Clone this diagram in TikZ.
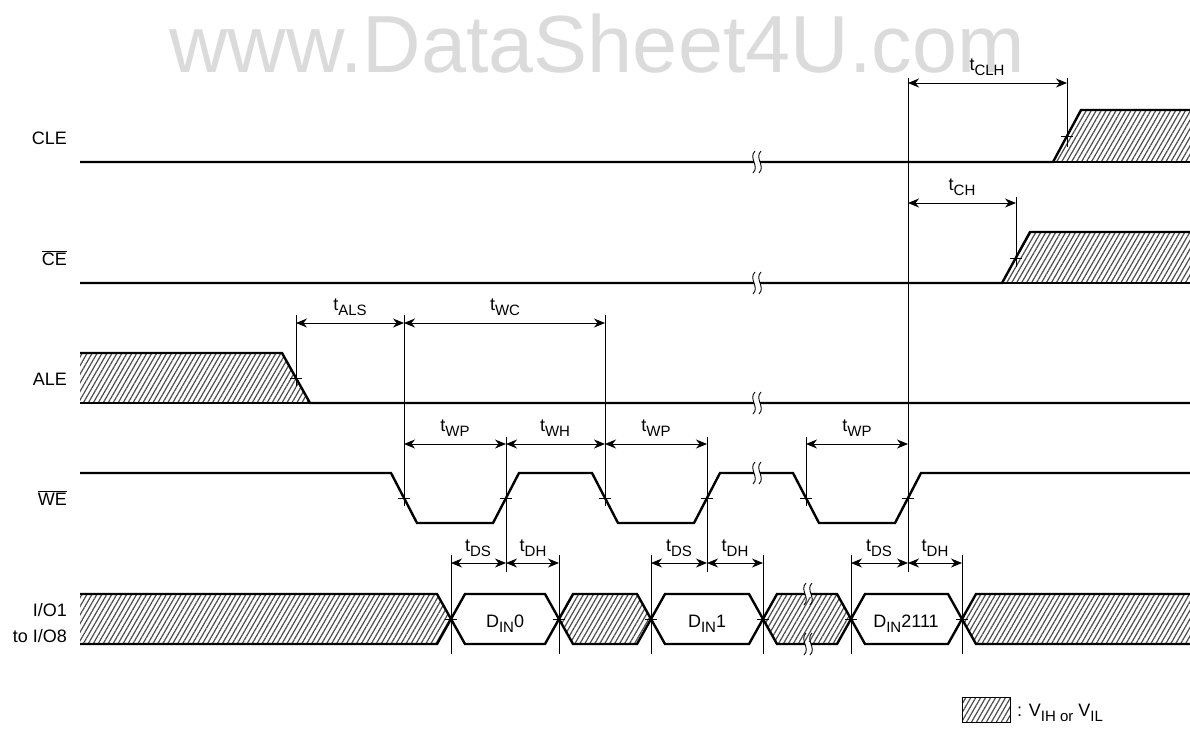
\documentclass[tikz,border=0pt]{standalone}
\usepackage{fontspec}
\setmainfont{Liberation Sans}
\usetikzlibrary{patterns.meta,arrows.meta}
\newcommand\tsub[2]{#1\raisebox{-5pt}{\fontsize{15}{15}\selectfont #2}}
\newcommand\brkmark[2]{%
  \fill[white] (#1-3,#2-2.5) rectangle (#1+3,#2+2.5);
  \draw[line width=0.9pt] (#1-2,#2-11) .. controls (#1-9,#2-4) and (#1+3,#2+4) .. (#1-4,#2+11);
  \draw[line width=0.9pt] (#1+4,#2-11) .. controls (#1-3,#2-4) and (#1+9,#2+4) .. (#1+2,#2+11);}
\newcommand\tick[2]{\draw[line width=0.9pt] (#1-6,#2) -- (#1+6,#2);}
\tikzset{
  sig/.style={line width=2.4pt},
  hatch/.style={pattern={Lines[angle=60,distance=4.3pt,line width=1.2pt]},pattern color=black!70},
  dimarrow/.style={line width=0.9pt,{Stealth[length=11pt,width=9pt,inset=3.5pt]}-{Stealth[length=11pt,width=9pt,inset=3.5pt]}},
  refl/.style={line width=0.9pt},
  siglabel/.style={font=\fontsize{18}{21}\selectfont, anchor=base east, inner sep=0pt},
  tlabel/.style={font=\fontsize{18}{21}\selectfont, anchor=base, inner sep=0pt},
}
\begin{document}
\begin{tikzpicture}[x=1pt,y=-1pt]
\useasboundingbox (0,0) rectangle (1190,745);
% watermark
\node[anchor=base, inner sep=0pt, text=black!14, font=\fontsize{81}{83}\selectfont] (wm) at (597,72) {www.DataSheet4U.com};

% labels
\node[siglabel] (lcle) at (67,144) {CLE};
\node[siglabel] (lce) at (67,265) {$\overline{\mbox{CE}}$};
\node[siglabel] (lale) at (67,385) {ALE};
\node[siglabel] (lwe) at (67,505) {$\overline{\mbox{WE}}$};
\node[siglabel] (lio1) at (67,616) {I/O1};
\node[siglabel] (lio2) at (67,642) {to I/O8};

% CLE
\fill[hatch] (1053,162) -- (1081,110) -- (1190,110) -- (1190,162) -- cycle;
\draw[sig] (80,162) -- (1053,162) -- (1081,110) -- (1190,110);
\draw[sig] (1053,162) -- (1190,162);
\brkmark{757}{162}
% CE
\fill[hatch] (1002,283) -- (1030,232) -- (1190,232) -- (1190,283) -- cycle;
\draw[sig] (80,283) -- (1002,283) -- (1030,232) -- (1190,232);
\draw[sig] (1002,283) -- (1190,283);
\brkmark{757}{283}
% ALE
\fill[hatch] (80,353) -- (282,353) -- (310,403) -- (80,403) -- cycle;
\draw[sig] (80,353) -- (282,353) -- (310,403) -- (1190,403);
\draw[sig] (80,403) -- (310,403);
\brkmark{757}{403}
% WE
\draw[sig] (80,473) -- (391,473) -- (417,523) -- (493,523) -- (519,473) -- (592,473) -- (618,523) -- (694,523) -- (720,473) -- (793,473) -- (819,523) -- (895,523) -- (921,473) -- (1190,473);
\brkmark{757}{473}

% I/O
\fill[hatch] (80,594) -- (437,594) -- (451,619) -- (437,644) -- (80,644) -- cycle;
\fill[hatch] (559,619) -- (573,594) -- (637,594) -- (651,619) -- (637,644) -- (573,644) -- cycle;
\fill[hatch] (763,619) -- (777,594) -- (837,594) -- (851,619) -- (837,644) -- (777,644) -- cycle;
\fill[hatch] (962,619) -- (976,594) -- (1190,594) -- (1190,644) -- (976,644) -- cycle;
\draw[sig] (80,594) -- (437,594) -- (451,619) -- (437,644) -- (80,644);
\draw[sig] (451,619) -- (465,594) -- (545,594) -- (559,619) -- (545,644) -- (465,644) -- cycle;
\draw[sig] (559,619) -- (573,594) -- (637,594) -- (651,619) -- (637,644) -- (573,644) -- cycle;
\draw[sig] (651,619) -- (665,594) -- (749,594) -- (763,619) -- (749,644) -- (665,644) -- cycle;
\draw[sig] (763,619) -- (777,594) -- (837,594) -- (851,619) -- (837,644) -- (777,644) -- cycle;
\draw[sig] (851,619) -- (865,594) -- (948,594) -- (962,619) -- (948,644) -- (865,644) -- cycle;
\draw[sig] (1190,594) -- (976,594) -- (962,619) -- (976,644) -- (1190,644);
\brkmark{808}{594}
\brkmark{808}{644}
\node[tlabel] (d0) at (505,627) {\tsub{D}{IN}0};
\node[tlabel] (d1) at (707,627) {\tsub{D}{IN}1};
\node[tlabel] (d2) at (906,627) {\tsub{D}{IN}2111};

% reference lines
\coordinate (r1067t) at (1067,78); \coordinate (r1067b) at (1067,147);
\coordinate (r1016t) at (1016,197); \coordinate (r1016b) at (1016,267);
\coordinate (r908t) at (908,78); \coordinate (r908b) at (908,572);
\coordinate (r296t) at (296,315); \coordinate (r296b) at (296,386);
\coordinate (r404t) at (404,315); \coordinate (r404b) at (404,506);
\coordinate (r605t) at (605,315); \coordinate (r605b) at (605,506);
\coordinate (r506t) at (506,437); \coordinate (r506b) at (506,572);
\coordinate (r707t) at (707,437); \coordinate (r707b) at (707,572);
\coordinate (r806t) at (806,437); \coordinate (r806b) at (806,506);
\foreach \a in {1067,1016,908,296,404,605,506,707,806}{\draw[refl] (r\a t) -- (r\a b);}
\foreach \a in {451,559,651,763,851,962}{
  \coordinate (io\a t) at (\a,555); \coordinate (io\a b) at (\a,654);
  \draw[refl] (io\a t) -- (io\a b);
  \tick{\a}{619}}
% ticks
\tick{1067}{136}
\tick{1016}{258}
\tick{296}{378}
\foreach \a in {404,506,605,707,806,908}{\tick{\a}{498}}

% dimension arrows
\coordinate (a1) at (908,83); \coordinate (a2) at (1067,83);
\draw[dimarrow] (a1) -- (a2);
\node[tlabel] (tclh) at (987,70) {\tsub{t}{CLH}};
\coordinate (b1) at (908,203); \coordinate (b2) at (1016,203);
\draw[dimarrow] (b1) -- (b2);
\node[tlabel] (tch) at (962,190) {\tsub{t}{CH}};
\coordinate (c1) at (296,323); \coordinate (c2) at (404,323); \coordinate (c3) at (605,323);
\draw[dimarrow] (c1) -- (c2);
\draw[dimarrow] (c2) -- (c3);
\node[tlabel] (tals) at (350,310) {\tsub{t}{ALS}};
\node[tlabel] (twc) at (505,310) {\tsub{t}{WC}};
\coordinate (w1) at (404,444); \coordinate (w2) at (506,444); \coordinate (w3) at (605,444);
\coordinate (w4) at (707,444); \coordinate (w5) at (806,444); \coordinate (w6) at (908,444);
\draw[dimarrow] (w1) -- (w2);
\draw[dimarrow] (w2) -- (w3);
\draw[dimarrow] (w3) -- (w4);
\draw[dimarrow] (w5) -- (w6);
\node[tlabel] (twp1) at (455,431) {\tsub{t}{WP}};
\node[tlabel] (twh) at (555,431) {\tsub{t}{WH}};
\node[tlabel] (twp2) at (656,431) {\tsub{t}{WP}};
\node[tlabel] (twp3) at (857,431) {\tsub{t}{WP}};
\foreach \l/\m/\r in {451/506/559, 651/707/763, 851/908/962}{
  \coordinate (s\l) at (\l,563); \coordinate (s\m) at (\m,563); \coordinate (s\r) at (\r,563);
  \draw[dimarrow] (s\l) -- (s\m);
  \draw[dimarrow] (s\m) -- (s\r);}
\node[tlabel] (tds1) at (478,551) {\tsub{t}{DS}};
\node[tlabel] (tdh1) at (533,551) {\tsub{t}{DH}};
\node[tlabel] (tds2) at (679,551) {\tsub{t}{DS}};
\node[tlabel] (tdh2) at (735,551) {\tsub{t}{DH}};
\node[tlabel] (tds3) at (879,551) {\tsub{t}{DS}};
\node[tlabel] (tdh3) at (935,551) {\tsub{t}{DH}};

% legend
\fill[hatch] (962,697) rectangle (1010,722);
\draw[line width=0.9pt] (962,697) rectangle (1010,722);
\node[anchor=base west, inner sep=0pt, font=\fontsize{18}{21}\selectfont] (leg) at (1017,716) {: \tsub{V}{IH or} \tsub{V}{IL}};
\end{tikzpicture}
\end{document}
